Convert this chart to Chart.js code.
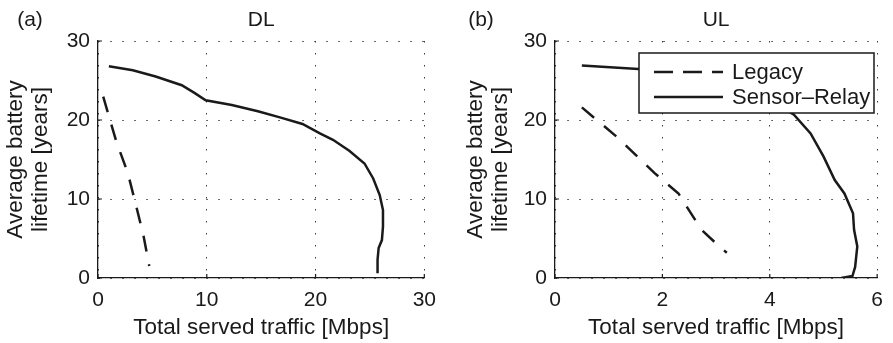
<!DOCTYPE html>
<html>
<head>
<meta charset="utf-8">
<script src="https://cdn.jsdelivr.net/npm/chart.js@4/dist/chart.umd.min.js"></script>
<style>
  html, body { margin: 0; padding: 0; background: #fff; }
  body { width: 893px; height: 343px; position: relative; overflow: hidden; }
  .panel { position: absolute; top: 0; height: 343px; }
  #pa { left: 0; width: 446px; }
  #pb { left: 446px; width: 447px; }
</style>
</head>
<body>
<div class="panel" id="pa"><canvas id="ca" width="446" height="343"></canvas></div>
<div class="panel" id="pb"><canvas id="cb" width="447" height="343"></canvas></div>
<script>
// ---------- data ----------
const panelLetters = ['(a)', '(b)'];
const panelTitles = ['DL', 'UL'];
const seriesNames = ['Legacy', 'Sensor\u2013Relay'];
const xAxisTitle = 'Total served traffic [Mbps]';
const yAxisTitle = ['Average battery', 'lifetime [years]'];

const yTicks = [0, 10, 20, 30];
const dlXTicks = [0, 10, 20, 30];
const ulXTicks = [0, 2, 4, 6];

// (a) DL
const dlLegacyX = [0.48, 1.69, 2.75, 3.45, 4.17, 4.71];
const dlLegacyY = [22.95, 17.25, 13.25, 9.45, 5.44, 1.52];
const dlRelayX = [1.0, 3.2, 5.3, 7.7, 8.9, 9.9, 12.3, 14.7, 16.8, 18.8, 20.4, 21.6, 23.1, 24.5, 25.3, 25.9, 26.2, 26.2, 26.1, 25.8, 25.7, 25.7];
const dlRelayY = [26.8, 26.3, 25.5, 24.4, 23.4, 22.5, 21.9, 21.1, 20.3, 19.5, 18.3, 17.5, 16.1, 14.5, 12.6, 10.5, 8.6, 6.5, 4.8, 3.8, 2.3, 0.6];

// (b) UL
const ulLegacyX = [0.50, 1.18, 1.85, 2.30, 2.39, 2.73, 3.06, 3.20];
const ulLegacyY = [21.6, 17.7, 13.3, 10.7, 9.7, 6.1, 4.0, 3.2];
const ulRelayX = [0.50, 1.55, 2.5, 3.3, 3.9, 4.3, 4.45, 4.76, 5.00, 5.21, 5.39, 5.55, 5.57, 5.63, 5.59, 5.54, 5.33];
const ulRelayY = [26.9, 26.45, 26.0, 25.0, 23.3, 21.3, 20.66, 18.3, 15.4, 12.4, 10.7, 8.2, 6.1, 4.0, 1.4, 0.25, 0.0];

// ---------- helpers ----------
const pts = (xs, ys) => xs.map((x, i) => ({ x: x, y: ys[i] }));
const FONT = '"Liberation Sans", Arial, Helvetica, sans-serif';
const INK = '#1a1a1a';
Chart.defaults.font.family = FONT;
Chart.defaults.color = INK;

const panelText = {
  id: 'panelText',
  afterDraw(chart, args, o) {
    const { ctx, chartArea } = chart;
    ctx.save();
    ctx.fillStyle = INK;
    ctx.font = '21px ' + FONT;
    ctx.textBaseline = 'middle';
    ctx.textAlign = 'center';
    ctx.fillText(o.letter, o.letterX, o.textY);
    ctx.fillText(o.title, (chartArea.left + chartArea.right) / 2, o.textY);
    ctx.restore();
  }
};

// small inward tick marks on the left and bottom axes, at the scale's own tick values
const innerTicks = {
  id: 'innerTicks',
  afterDraw(chart, args, o) {
    const { ctx, chartArea, scales } = chart;
    ctx.save();
    ctx.strokeStyle = INK;
    ctx.lineWidth = 1.2;
    ctx.beginPath();
    scales.x.ticks.forEach(t => {
      const px = scales.x.getPixelForValue(t.value);
      ctx.moveTo(px, chartArea.bottom);
      ctx.lineTo(px, chartArea.bottom - o.len);
    });
    scales.y.ticks.forEach(t => {
      const py = scales.y.getPixelForValue(t.value);
      ctx.moveTo(chartArea.left, py);
      ctx.lineTo(chartArea.left + o.len, py);
    });
    ctx.stroke();
    ctx.restore();
  }
};

const insideLegend = {
  id: 'insideLegend',
  afterDatasetsDraw(chart, args, o) {
    if (!o.display) return;
    const { ctx, chartArea } = chart;
    const bx = chartArea.left + o.x, by = chartArea.top + o.y;
    ctx.save();
    ctx.fillStyle = '#fff';
    ctx.fillRect(bx, by, o.w, o.h);
    ctx.strokeStyle = INK;
    ctx.lineWidth = 1.5;
    ctx.strokeRect(bx, by, o.w, o.h);
    ctx.font = '22px ' + FONT;
    ctx.textBaseline = 'middle';
    ctx.textAlign = 'left';
    chart.data.datasets.forEach((ds, i) => {
      const ry = by + o.rows[i];
      ctx.strokeStyle = ds.borderColor;
      ctx.lineWidth = ds.borderWidth;
      ctx.setLineDash(i === 0 ? o.legendDash : []);
      ctx.beginPath();
      ctx.moveTo(bx + o.lineStart, ry);
      ctx.lineTo(bx + o.lineEnd, ry);
      ctx.stroke();
      ctx.setLineDash([]);
      ctx.fillStyle = INK;
      ctx.fillText(ds.label, bx + o.textX, ry + 1);
    });
    ctx.restore();
  }
};

function makeChart(canvasId, legacy, relay, xTicks, yAxisWidth, padRight, pt, legendOpts) {
  const xMin = xTicks[0], xMax = xTicks[xTicks.length - 1];
  const xStep = xTicks[1] - xTicks[0];
  const yStep = yTicks[1] - yTicks[0];
  return new Chart(document.getElementById(canvasId), {
    type: 'scatter',
    data: {
      datasets: [
        { label: seriesNames[0], data: legacy, showLine: true, borderColor: INK, borderWidth: 2.5,
          borderDash: [16, 13], pointRadius: 0, fill: false, tension: 0 },
        { label: seriesNames[1], data: relay, showLine: true, borderColor: INK, borderWidth: 2.5,
          pointRadius: 0, fill: false, tension: 0 }
      ]
    },
    options: {
      responsive: false,
      animation: false,
      devicePixelRatio: 1,
      layout: { padding: { left: 0, right: padRight, top: 41, bottom: 0 } },
      plugins: {
        legend: { display: false },
        tooltip: { enabled: false },
        panelText: { letter: pt.letter, title: pt.title, letterX: pt.x, textY: 20 },
        innerTicks: { len: 4 },
        insideLegend: legendOpts
      },
      scales: {
        x: {
          type: 'linear', min: xMin, max: xMax,
          afterFit: s => { s.height = 65; },
          ticks: { stepSize: xStep, padding: 10, font: { size: 21 }, color: INK, maxRotation: 0 },
          grid: { color: '#3a3a3a', lineWidth: 1, drawTicks: false },
          border: { display: true, color: INK, width: 1.3, dash: [1.5, 10.5] },
          title: { display: true, text: xAxisTitle, font: { size: 22.5, lineHeight: 1.2 }, color: INK,
                   padding: { top: 0, bottom: 2 } }
        },
        y: {
          type: 'linear', min: yTicks[0], max: yTicks[yTicks.length - 1],
          afterFit: s => { s.width = yAxisWidth; },
          ticks: { stepSize: yStep, padding: 8, font: { size: 21 }, color: INK },
          grid: { color: '#3a3a3a', lineWidth: 1, drawTicks: false },
          border: { display: true, color: INK, width: 1.3, dash: [1.5, 10.5] },
          title: { display: true, text: yAxisTitle, font: { size: 22.5, lineHeight: 1.13 }, color: INK,
                   padding: { top: pt.yTitlePad, bottom: 0 } }
        }
      }
    },
    plugins: [panelText, innerTicks, insideLegend]
  });
}

makeChart('ca', pts(dlLegacyX, dlLegacyY), pts(dlRelayX, dlRelayY), dlXTicks, 98, 17,
  { letter: panelLetters[0], title: panelTitles[0], x: 30, yTitlePad: 3 },
  { display: false });

makeChart('cb', pts(ulLegacyX, ulLegacyY), pts(ulRelayX, ulRelayY), ulXTicks, 109, 8,
  { letter: panelLetters[1], title: panelTitles[1], x: 35, yTitlePad: 17 },
  { display: true, x: 84, y: 12, w: 235, h: 60, rows: [19, 44], lineStart: 15, lineEnd: 84, textX: 93,
    legendDash: [19, 10] });
</script>
</body>
</html>
